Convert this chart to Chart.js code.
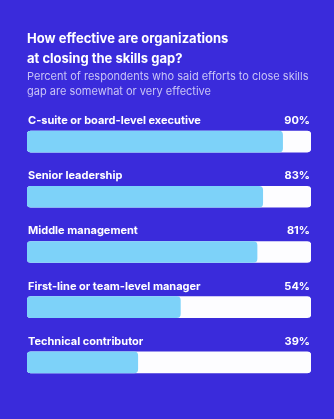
<!DOCTYPE html>
<html>
<head>
<meta charset="utf-8">
<script src="https://cdn.jsdelivr.net/npm/chart.js@4.4.1/dist/chart.umd.min.js"></script>
<style>
  html, body { margin: 0; padding: 0; background: #3a2bdb; }
  #wrap { width: 334px; height: 419px; position: relative; }
</style>
</head>
<body>
<div id="wrap"><canvas id="chart"></canvas></div>
<script>
// data
const categories = [
  "C-suite or board-level executive",
  "Senior leadership",
  "Middle management",
  "First-line or team-level manager",
  "Technical contributor"
];
const percentValues = [90, 83, 81, 54, 39];
const trackValues = [100, 100, 100, 100, 100];

const titleLines = ["How effective are organizations", "at closing the skills gap?"];
const subtitleLines = [
  "Percent of respondents who said efforts to close skills",
  "gap are somewhat or very effective"
];

// labels above each bar, placed from the bar elements
const barLabels = {
  id: "barLabels",
  afterDatasetsDraw(chart) {
    const ctx = chart.ctx;
    const meta = chart.getDatasetMeta(0);
    const right = chart.chartArea.right - 1;
    ctx.save();
    ctx.fillStyle = "#ffffff";
    ctx.font = "bold 11px Inter";
    ctx.textBaseline = "alphabetic";
    meta.data.forEach((bar, i) => {
      const top = bar.y - bar.height / 2;
      ctx.textAlign = "left";
      ctx.fillText(categories[i], chart.chartArea.left + 1, top - 7);
      ctx.textAlign = "right";
      ctx.fillText(percentValues[i] + "%", right, top - 7);
    });
    ctx.restore();
  }
};

new Chart(document.getElementById("chart"), {
  type: "bar",
  data: {
    labels: categories,
    datasets: [{
      data: percentValues,
      backgroundColor: "#7dd2f9",
      grouped: false,
      barThickness: 21,
      borderRadius: 4,
      borderSkipped: false
    }, {
      data: trackValues,
      backgroundColor: "#fdfdff",
      grouped: false,
      barThickness: 21,
      borderRadius: 4,
      borderSkipped: false
    }]
  },
  options: {
    indexAxis: "y",
    responsive: true,
    maintainAspectRatio: false,
    animation: false,
    layout: { padding: { top: 29, left: 27, right: 23, bottom: 29 } },
    scales: {
      x: { min: 0, max: 100, display: false },
      y: { display: false }
    },
    plugins: {
      legend: { display: false },
      tooltip: { enabled: false },
      title: {
        display: true,
        text: titleLines,
        align: "start",
        color: "#ffffff",
        font: { family: "Inter", size: 13, weight: "bold", lineHeight: 1.54 },
        padding: { top: 0, bottom: 0 }
      },
      subtitle: {
        display: true,
        text: subtitleLines,
        align: "start",
        color: "#c9c4f6",
        font: { family: "Inter", size: 11, lineHeight: 1.36 },
        padding: { top: 0, bottom: 15 }
      }
    }
  },
  plugins: [barLabels]
});
</script>
</body>
</html>
